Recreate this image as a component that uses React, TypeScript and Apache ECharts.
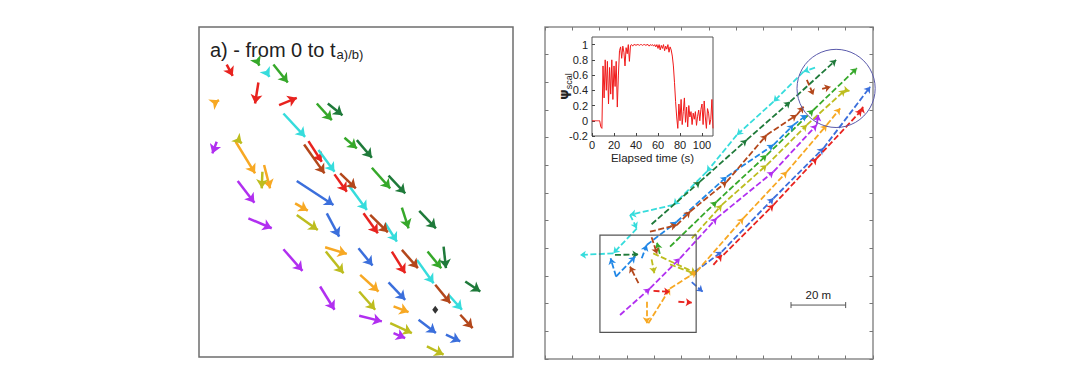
import React, { useEffect, useRef } from "react";
import * as echarts from "echarts";

const COLORS: Record<string, string> = {
  red: "#e8231f",
  green: "#36a82a",
  darkGreen: "#1f7a3a",
  cyan: "#36dcdc",
  brown: "#b3471b",
  orange: "#f7a823",
  olive: "#bdbd1f",
  blue: "#3b6fdc",
  dodger: "#2187e6",
  purple: "#b12ff0",
};

const FONT = "Liberation Sans, Arial, sans-serif";

// ---------- Left panel: arrows [x1, y1, x2, y2] (arbitrary position units) ----------
const leftRed = [[8.3, 87.9, 10.1, 84.5], [17.8, 82.5, 16.8, 76.2], [24.0, 75.7, 29.3, 77.9], [32.8, 64.9, 36.8, 58.7], [40.6, 54.9, 44.3, 49.7], [49.3, 43.2, 53.6, 37.2], [57.8, 31.7, 61.8, 25.2]];
const leftGreen = [[17.8, 88.2, 18.1, 87.6], [22.3, 87.9, 26.6, 82.5], [35.3, 76.2, 39.8, 71.2], [43.6, 65.9, 47.3, 62.7], [51.8, 56.9, 57.3, 50.7], [60.8, 44.9, 62.8, 38.7], [68.5, 31.7, 72.6, 26.7]];
const leftDarkGreen = [[38.6, 76.2, 43.0, 72.7], [47.3, 65.2, 51.8, 59.9], [56.8, 54.5, 61.8, 49.2], [66.0, 43.9, 71.0, 38.7], [73.3, 33.2, 74.0, 26.7], [79.8, 22.7, 84.3, 19.7]];
const leftCyan = [[20.8, 84.7, 21.1, 84.2], [25.3, 73.2, 31.8, 66.2], [35.8, 62.2, 40.6, 55.7], [44.8, 51.7, 50.3, 44.2], [55.8, 40.2, 59.3, 34.7], [65.3, 29.2, 70.3, 22.2], [74.8, 18.7, 78.8, 14.2]];
const leftBrown = [[31.5, 63.9, 37.6, 55.2], [42.3, 55.2, 47.0, 50.7], [51.3, 42.7, 56.6, 37.5], [60.8, 32.2, 65.6, 26.7], [70.8, 21.7, 75.3, 16.2], [78.3, 12.7, 82.0, 8.7]];
const leftOrange = [[4.8, 76.5, 6.0, 77.2], [11.0, 64.7, 16.8, 55.2], [19.5, 57.7, 21.3, 50.7], [28.8, 46.2, 32.6, 44.0], [37.8, 33.0, 44.3, 31.0], [48.3, 24.7, 53.8, 19.7], [58.3, 15.2, 62.8, 13.5]];
const leftOlive = [[11.6, 65.4, 12.8, 64.2], [19.0, 55.7, 18.8, 50.7], [29.3, 42.7, 35.6, 38.2], [38.0, 31.7, 43.3, 25.2], [48.0, 19.7, 52.8, 14.2], [57.3, 10.2, 63.8, 7.2], [68.3, 3.2, 73.3, 0.7]];
const leftBlue = [[29.3, 52.9, 40.3, 45.7], [38.3, 43.2, 42.0, 36.2], [47.8, 32.7, 52.0, 27.5], [56.8, 22.4, 61.8, 17.2], [65.8, 11.2, 71.0, 7.2], [74.0, 6.7, 78.3, 4.7]];
const leftPurple = [[5.3, 64.7, 4.0, 61.2], [11.6, 52.9, 16.6, 46.4], [14.8, 41.7, 21.8, 38.7], [25.3, 32.4, 31.0, 25.9], [36.3, 21.2, 40.6, 14.2], [48.0, 12.4, 54.8, 10.7], [58.3, 7.2, 61.8, 5.7]];
const leftMarker = [[70.8, 14.2]];

const leftTitleMain = "a) - from 0 to t";
const leftTitleSub = "a)/b)";

// ---------- Right panel: trajectories in metres ----------
const trajCyan = [[98.8, 105.3], [94.6, 103.9], [83.6, 93.0], [70.2, 81.0], [59.2, 67.7], [47.0, 55.7], [31.1, 52.1], [33.6, 47.2], [25.0, 38.2], [12.8, 37.6]];
const trajDarkGreen = [[39.0, 48.7], [56.7, 64.1], [73.8, 79.2], [89.7, 93.0], [106.5, 108.1]];
const trajGreen = [[45.75, 40.6], [62.8, 56.9], [81.1, 73.7], [98.2, 90.0], [114.1, 105.1]];
const trajOlive = [[53.7, 43.6], [64.7, 55.7], [81.1, 70.1], [95.8, 84.6], [109.8, 97.2], [111.4, 96.9]];
const trajBlue = [[54.9, 31.6], [64.7, 38.8], [83.6, 58.1], [101.9, 76.2], [119.0, 98.4]];
const trajDodger = [[35.4, 36.4], [37.2, 41.2], [48.2, 49.6], [66.5, 65.9], [83.6, 77.4], [90.9, 84.6], [95.8, 88.2]];
const trajOrange = [[37.8, 12.9], [45.75, 25.5], [55.5, 31.6], [72.6, 50.9], [88.5, 67.7], [103.1, 84.6], [108.0, 90.6]];
const trajRed = [[65.3, 37.6], [83.6, 55.7], [99.4, 72.5], [115.9, 90.0], [116.3, 91.2]];
const trajPurple = [[27.45, 15.9], [38.4, 25.5], [49.4, 36.4], [62.8, 50.9], [83.6, 67.7], [99.4, 84.6], [100.0, 88.2]];
const trajBrown = [[38.4, 46.0], [48.2, 48.4], [53.1, 53.3], [66.5, 64.1], [81.1, 81.0], [92.1, 88.2], [94.6, 91.2]];

// extra isolated arrows [x1, y1, x2, y2] in metres
const extraDarkGreen = [[25.6, 37.6, 34.2, 37.8]];
const extraOlive = [[39.6, 38.2, 55.3, 31.0], [45.75, 34.2, 55.3, 30.6], [39.0, 36.0, 40.0, 31.0]];
const extraBlue = [[53.7, 27.8, 57.7, 24.3]];
const extraDodger = [[26.0, 29.8, 24.0, 36.4], [26.0, 29.8, 33.0, 37.0]];
const extraOrange = [[37.2, 20.7, 37.2, 12.9]];
const extraRed = [[39.7, 24.6, 45.75, 24.3], [48.8, 20.7, 53.7, 20.4], [61.6, 34.0, 64.7, 37.6]];
const extraBrown = [[34.2, 27.4, 31.1, 33.4], [95.8, 100.9, 98.2, 95.4], [101.4, 97.6, 104.5, 98.4], [39.0, 44.0, 41.0, 38.0]];
const extraGreen = [[42.0, 38.0, 41.0, 42.0]];

const circleRegion = [[106.5, 97.8, 14.3]];
const boxRegion = [[20.1, 9.6, 55.3, 44.8]];
const scaleBar = [[90, 19.5, 110]];
const scaleBarLabel = "20 m";

// ---------- Inset: order parameter vs elapsed time ----------
const psiStepSeconds = 1;
const psiValues = [
  0, 0, 0, 0, 0, 0, 0, 0,
  -0.08, -0.1,
  0.72, 0.3, 0.8, 0.4, 0.78, 0.22, 0.7, 0.35, 0.8, 0.28,
  0.72, 0.45, 0.78, 0.18, 0.6, 0.92, 0.97, 0.82, 0.98, 0.9,
  0.72, 0.96, 0.88, 1.0, 0.78, 0.99, 1.0, 0.98, 1.0, 1.0,
  0.99, 1.0, 1.0, 0.99, 1.0, 1.0, 0.99, 1.0, 1.0, 0.99,
  1.0, 1.0, 0.98, 1.0, 0.99, 1.0, 0.98, 1.0, 0.97, 1.0,
  0.95, 1.0, 0.93, 0.99, 0.95, 1.0, 0.92, 0.98, 0.94, 1.0,
  0.9, 0.97, 0.93, 0.85, 0.72, 0.5, 0.25, 0.05, -0.1, 0.22,
  0.0, 0.28, -0.05, 0.12, 0.3, -0.02, 0.18, -0.08, 0.2, 0.05,
  0.12, -0.05, 0.1, 0.02, 0.12, -0.06, 0.06, 0.14, 0.0, 0.15,
  0.22, -0.05, 0.26, 0.05, -0.1, 0.16, 0.1, -0.05, 0.02, 0.28,
  -0.1,
];
const insetXName = "Elapsed time (s)";

function arrowsToLines(arr: number[][]) {
  return arr.map((a) => ({ coords: [[a[0], a[1]], [a[2], a[3]]] }));
}
function polyToLines(poly: number[][]) {
  const out: any[] = [];
  for (let i = 0; i < poly.length - 1; i++) out.push({ coords: [poly[i], poly[i + 1]] });
  return out;
}

export default function App() {
  const ref = useRef<HTMLDivElement>(null);
  useEffect(() => {
    if (!ref.current) return;
    const chart = echarts.init(ref.current, undefined, { renderer: "svg" });

    const leftSets: [string, number[][]][] = [
      ["red", leftRed], ["green", leftGreen], ["darkGreen", leftDarkGreen], ["cyan", leftCyan],
      ["brown", leftBrown], ["orange", leftOrange], ["olive", leftOlive], ["blue", leftBlue], ["purple", leftPurple],
    ];
    const leftSeries = leftSets.map(([c, arr]) => ({
      type: "lines",
      coordinateSystem: "cartesian2d",
      xAxisIndex: 0,
      yAxisIndex: 0,
      symbol: ["none", "arrow"],
      symbolSize: 9,
      silent: true,
      lineStyle: { color: COLORS[c], width: 2.5, opacity: 1, curveness: 0 },
      data: arrowsToLines(arr),
    }));

    const rightSets: [string, number[][], number[][]][] = [
      ["cyan", trajCyan, []],
      ["darkGreen", trajDarkGreen, extraDarkGreen],
      ["green", trajGreen, extraGreen],
      ["olive", trajOlive, extraOlive],
      ["blue", trajBlue, extraBlue],
      ["dodger", trajDodger, extraDodger],
      ["orange", trajOrange, extraOrange],
      ["red", trajRed, extraRed],
      ["purple", trajPurple, []],
      ["brown", trajBrown, extraBrown],
    ];
    const rightSeries = rightSets.map(([c, poly, extra]) => ({
      type: "lines",
      coordinateSystem: "cartesian2d",
      xAxisIndex: 1,
      yAxisIndex: 1,
      symbol: ["none", "arrow"],
      symbolSize: 6,
      silent: true,
      lineStyle: { color: COLORS[c], width: 1.8, opacity: 1, curveness: 0, type: [6, 2.5] },
      data: [...polyToLines(poly), ...arrowsToLines(extra)],
    }));

    const sideAxis = (gridIndex: number, position: string) => ({
      type: "value",
      gridIndex,
      position,
      min: 0,
      max: 120,
      interval: 10,
      axisLine: { show: false, onZero: false },
      axisLabel: { show: false },
      splitLine: { show: false },
      axisTick: { show: true, inside: true, length: 3.5, lineStyle: { color: "#777", width: 1 } },
    });

    const insetTick = { show: true, inside: true, length: 3, lineStyle: { color: "#444" } };

    chart.setOption({
      animation: false,
      backgroundColor: "#ffffff",
      title: {
        text: leftTitleMain + "{s|" + leftTitleSub + "}",
        left: 205,
        top: 34,
        textStyle: {
          fontFamily: FONT,
          fontSize: 20,
          fontWeight: "normal",
          color: "#222",
          rich: {
            s: { fontFamily: FONT, fontSize: 13, color: "#222", padding: [9, 0, 0, 1] },
          },
        },
      },
      grid: [
        { left: 199, top: 27, width: 314, height: 330, show: true, borderColor: "#6e6e6e", borderWidth: 1.5, backgroundColor: "#fff" },
        { left: 545, top: 27, width: 328, height: 332, show: true, borderColor: "#8c8c8c", borderWidth: 1.5, backgroundColor: "#fff" },
        { left: 592, top: 37, width: 121, height: 99, show: true, borderColor: "#555", borderWidth: 1, backgroundColor: "#fff" },
      ],
      xAxis: [
        { type: "value", gridIndex: 0, min: 0, max: 94.1, show: false },
        sideAxis(1, "bottom"),
        sideAxis(1, "top"),
        {
          type: "value",
          gridIndex: 2,
          position: "bottom",
          min: 0,
          max: 110,
          interval: 20,
          axisLine: { show: false, onZero: false },
          splitLine: { show: false },
          axisTick: insetTick,
          axisLabel: { showMaxLabel: false, fontFamily: FONT, fontSize: 11, color: "#222", margin: 3 },
          name: insetXName,
          nameLocation: "middle",
          nameGap: 16,
          nameMoveOverlap: false,
          nameTextStyle: { fontFamily: FONT, fontSize: 11.5, color: "#222" },
        },
      ],
      yAxis: [
        { type: "value", gridIndex: 0, min: 0, max: 99.2, show: false },
        sideAxis(1, "left"),
        sideAxis(1, "right"),
        {
          type: "value",
          gridIndex: 2,
          position: "left",
          min: -0.2,
          max: 1.1,
          interval: 0.2,
          axisLine: { show: false, onZero: false },
          splitLine: { show: false },
          axisTick: insetTick,
          axisLabel: { showMaxLabel: false, fontFamily: FONT, fontSize: 11, color: "#222", margin: 4 },
          name: "{p|ψ}{s|scal}",
          nameLocation: "middle",
          nameRotate: 90,
          nameGap: 19,
          nameMoveOverlap: false,
          nameTextStyle: {
            color: "#222",
            rich: {
              p: { fontFamily: "DejaVu Sans", fontSize: 13, fontWeight: "bold", color: "#222", verticalAlign: "top" },
              s: { fontFamily: FONT, fontSize: 9, color: "#222", padding: [7, 0, 0, 0], verticalAlign: "bottom" },
            },
          },
        },
      ],
      series: [
        ...leftSeries,
        {
          type: "scatter",
          xAxisIndex: 0,
          yAxisIndex: 0,
          symbol: "diamond",
          symbolSize: [6, 8],
          itemStyle: { color: "#000" },
          silent: true,
          data: leftMarker,
        },
        ...rightSeries,
        {
          type: "custom",
          xAxisIndex: 1,
          yAxisIndex: 1,
          silent: true,
          data: boxRegion,
          renderItem: (params: any, api: any) => {
            const p1 = api.coord([api.value(0), api.value(3)]);
            const p2 = api.coord([api.value(2), api.value(1)]);
            return {
              type: "rect",
              shape: { x: p1[0], y: p1[1], width: p2[0] - p1[0], height: p2[1] - p1[1] },
              style: { fill: "none", stroke: "#555", lineWidth: 1.2 },
            };
          },
        },
        {
          type: "custom",
          xAxisIndex: 1,
          yAxisIndex: 1,
          silent: true,
          data: circleRegion,
          renderItem: (params: any, api: any) => {
            const c = api.coord([api.value(0), api.value(1)]);
            const r = api.size([api.value(2), 0])[0];
            return {
              type: "circle",
              shape: { cx: c[0], cy: c[1], r },
              style: { fill: "none", stroke: "#5a5aab", lineWidth: 1 },
            };
          },
        },
        {
          type: "custom",
          xAxisIndex: 1,
          yAxisIndex: 1,
          silent: true,
          data: scaleBar,
          renderItem: (params: any, api: any) => {
            const p1 = api.coord([api.value(0), api.value(1)]);
            const p2 = api.coord([api.value(2), api.value(1)]);
            const st = { stroke: "#555", lineWidth: 1 };
            return {
              type: "group",
              children: [
                { type: "line", shape: { x1: p1[0], y1: p1[1], x2: p2[0], y2: p2[1] }, style: st },
                { type: "line", shape: { x1: p1[0], y1: p1[1] - 3, x2: p1[0], y2: p1[1] + 3 }, style: st },
                { type: "line", shape: { x1: p2[0], y1: p2[1] - 3, x2: p2[0], y2: p2[1] + 3 }, style: st },
                {
                  type: "text",
                  style: {
                    text: scaleBarLabel,
                    x: (p1[0] + p2[0]) / 2,
                    y: p1[1] - 4,
                    align: "center",
                    verticalAlign: "bottom",
                    fontFamily: FONT,
                    fontSize: 11.5,
                    fill: "#222",
                  },
                },
              ],
            };
          },
        },
        {
          type: "line",
          xAxisIndex: 3,
          yAxisIndex: 3,
          showSymbol: false,
          silent: true,
          lineStyle: { color: "#f01a1a", width: 1 },
          data: psiValues.map((v, i) => [i * psiStepSeconds, v]),
        },
      ],
    });
    return () => chart.dispose();
  }, []);
  return <div ref={ref} style={{ position: "fixed", left: 0, top: 0, width: 1080, height: 382 }} />;
}
